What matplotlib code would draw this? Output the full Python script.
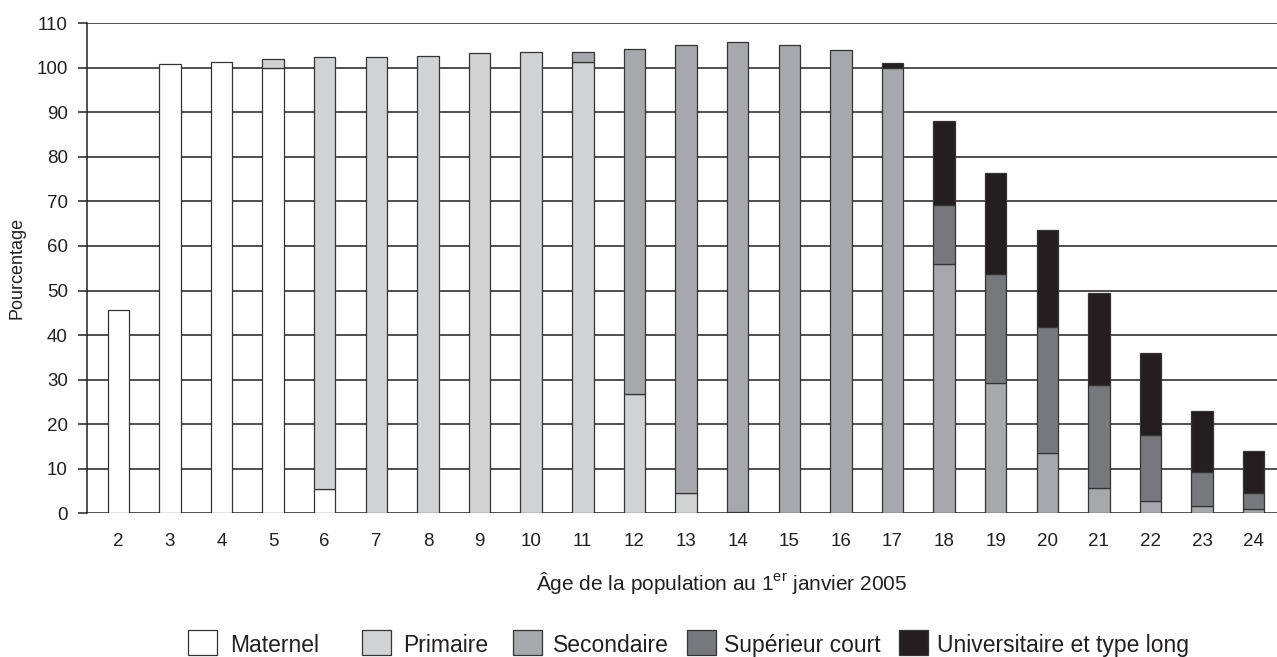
import matplotlib
matplotlib.use("Agg")
import matplotlib.pyplot as plt
from matplotlib.patches import Rectangle
import numpy as np

plt.rcParams['font.family'] = ['Liberation Sans', 'DejaVu Sans']
plt.rcParams['mathtext.fontset'] = 'custom'
plt.rcParams['mathtext.rm'] = 'Liberation Sans'

ages = [2, 3, 4, 5, 6, 7, 8, 9, 10, 11, 12, 13, 14, 15, 16, 17, 18, 19, 20, 21, 22, 23, 24]
maternel = [45.6, 100.9, 101.3, 100.0, 5.5, 0, 0, 0, 0, 0, 0, 0, 0, 0, 0, 0, 0, 0, 0, 0, 0, 0, 0]
primaire = [0, 0, 0, 1.9, 96.8, 102.3, 102.6, 103.2, 103.5, 101.2, 26.8, 4.6, 0.3, 0, 0, 0, 0, 0, 0, 0, 0, 0, 0]
secondaire = [0, 0, 0, 0, 0, 0, 0, 0, 0, 2.3, 77.5, 100.5, 105.5, 105.1, 103.9, 100.0, 56.0, 29.2, 13.6, 5.8, 2.8, 1.6, 0.9]
sup_court = [0, 0, 0, 0, 0, 0, 0, 0, 0, 0, 0, 0, 0, 0, 0, 0, 13.1, 24.4, 28.3, 22.9, 14.7, 7.7, 3.7]
universitaire = [0, 0, 0, 0, 0, 0, 0, 0, 0, 0, 0, 0, 0, 0, 0, 1.0, 18.9, 22.8, 21.7, 20.8, 18.4, 13.7, 9.5]

labels = ["Maternel", "Primaire", "Secondaire", "Supérieur court", "Universitaire et type long"]
colors = ["#ffffff", "#d1d2d4", "#a7a8ab", "#77787b", "#231f20"]
series = [maternel, primaire, secondaire, sup_court, universitaire]

W, H = 1277, 657
fig = plt.figure(figsize=(W / 100, H / 100), dpi=100)
ax = fig.add_axes([86.7 / W, 1 - 513.4 / H, 1 - 86.7 / W, (513.4 - 23.1) / H])

txt = "#231f20"
edge = "#333333"
x = np.array(ages, dtype=float)
bottom = np.zeros(len(ages))
for vals, col, lab in zip(series, colors, labels):
    v = np.array(vals, dtype=float)
    mask = v > 0
    ax.bar(x[mask], v[mask], width=0.415, bottom=bottom[mask], color=col,
           edgecolor=edge, linewidth=0.9, zorder=3, label=lab)
    bottom += v

ax.set_xlim(1.388, 24.45)
ax.set_ylim(0, 110)
ax.set_yticks(np.arange(0, 111, 10))
ax.set_xticks(ages)
ax.set_xticklabels([str(a) for a in ages])
ax.yaxis.grid(True, color=txt, linewidth=1.1, zorder=0)
ax.set_axisbelow(True)
for s in ["top", "right", "bottom"]:
    ax.spines[s].set_visible(False)
ax.spines["left"].set_color(txt)
ax.spines["left"].set_linewidth(1.1)
ax.tick_params(axis='y', length=6.5, width=1.1, color=txt, pad=7, labelsize=13.5, labelcolor=txt)
ax.tick_params(axis='x', length=0, pad=14, labelsize=13.5, labelcolor=txt)

ax.set_ylabel("Pourcentage", fontsize=13, color=txt, labelpad=8)

fig.text(722 / W, 1 - 590 / H, r"Âge de la population au 1$^{\mathrm{er}}$ janvier 2005",
         ha='center', va='baseline', fontsize=15, color=txt)

# legend (manual layout)
box_left = [188, 362, 513, 687, 899]
text_left = [230, 403, 553, 724, 937]
bw, bh, btop = 29, 25, 630
for bl, tl, col, lab in zip(box_left, text_left, colors, labels):
    fig.add_artist(Rectangle((bl / W, 1 - (btop + bh) / H), bw / W, bh / H,
                             transform=fig.transFigure, facecolor=col,
                             edgecolor=edge, linewidth=0.9))
    fig.text(tl / W, 1 - 652 / H, lab, ha='left', va='baseline', fontsize=16.5, color=txt)

fig.savefig("out.png", dpi=100)
